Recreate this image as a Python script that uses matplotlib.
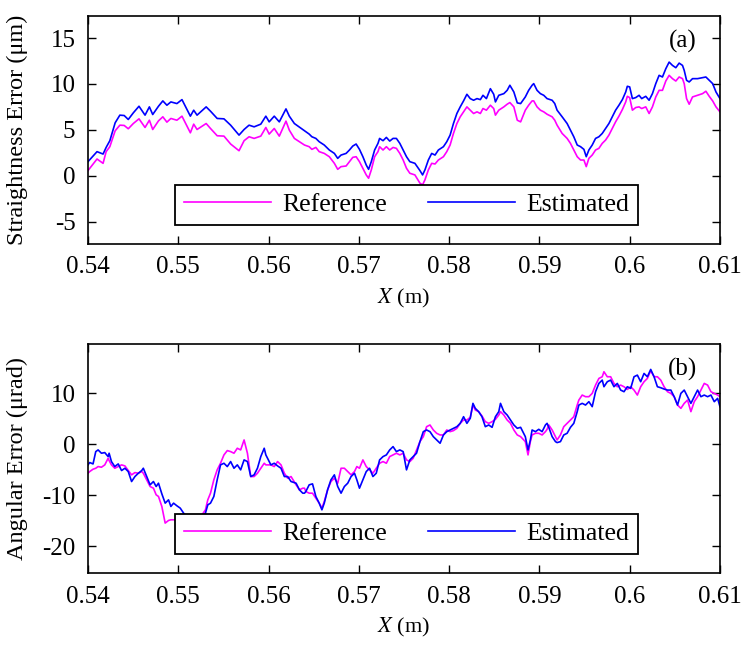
import matplotlib
matplotlib.use('Agg')
import matplotlib.pyplot as plt

# (a) straightness error, um
x_a = [0.54000, 0.54100, 0.54167, 0.54201, 0.54242, 0.54301, 0.54353, 0.54401, 0.54446, 0.54502,
       0.54565, 0.54632, 0.54680, 0.54717, 0.54781, 0.54829, 0.54874, 0.54918, 0.54985, 0.55041,
       0.55134, 0.55171, 0.55208, 0.55309, 0.55357, 0.55431, 0.55506, 0.55580, 0.55673, 0.55729,
       0.55784, 0.55840, 0.55914, 0.55970, 0.56007, 0.56063, 0.56119, 0.56193, 0.56230, 0.56286,
       0.56398,
       0.56450, 0.56480, 0.56524, 0.56561, 0.56617, 0.56673, 0.56729, 0.56766, 0.56803, 0.56859,
       0.56896, 0.56933, 0.56970, 0.57007, 0.57045, 0.57082, 0.57108, 0.57138, 0.57175, 0.57212,
       0.57230, 0.57268, 0.57305, 0.57342, 0.57379, 0.57416, 0.57454, 0.57491, 0.57528, 0.57565,
       0.57621, 0.57677, 0.57706, 0.57732, 0.57770, 0.57807, 0.57844, 0.57881, 0.57937, 0.57974,
       0.58011, 0.58048, 0.58086, 0.58123, 0.58160, 0.58197, 0.58234, 0.58271, 0.58309, 0.58346,
       0.58375, 0.58413, 0.58457, 0.58494, 0.58513, 0.58550, 0.58606, 0.58643, 0.58673, 0.58717,
       0.58755, 0.58792,
       0.58844, 0.58881, 0.58919, 0.58937, 0.58974, 0.59011, 0.59048, 0.59085, 0.59141, 0.59170,
       0.59196, 0.59252, 0.59307, 0.59344, 0.59381, 0.59419, 0.59456, 0.59493, 0.59519, 0.59548,
       0.59585, 0.59622, 0.59659, 0.59696, 0.59733, 0.59770, 0.59807, 0.59844, 0.59881, 0.59919,
       0.59956, 0.59974, 0.60000, 0.60030, 0.60067, 0.60104, 0.60133, 0.60178, 0.60215, 0.60252,
       0.60289, 0.60326, 0.60363, 0.60400, 0.60437, 0.60474, 0.60511, 0.60548, 0.60585, 0.60604,
       0.60630, 0.60659, 0.60696, 0.60752, 0.60807, 0.60844, 0.60881, 0.60919, 0.60956, 0.61000]

ref_a = [0.58, 1.84, 1.37, 2.64, 3.18, 4.91, 5.52, 5.49, 5.13, 5.70,
         6.21, 5.27, 6.06, 5.05, 5.99, 6.43, 5.85, 6.25, 6.06, 6.50,
         4.69, 5.63, 5.05, 5.70, 5.16, 4.37, 4.33, 3.47, 2.74, 3.83,
         4.26, 4.08, 4.33, 5.27, 4.55, 5.16, 4.33, 5.96, 4.98, 4.08,
         3.36,
         3.18, 2.89, 3.10, 2.64, 2.45, 2.09, 1.37, 0.72, 1.01, 1.08,
         1.55, 2.02, 2.09, 1.55, 0.83, 0.11, -0.25, 0.65, 2.09, 2.64,
         3.18, 2.82, 3.18, 2.82, 3.10, 3.00, 2.45, 1.73, 0.83, 0.29,
         0.11, -0.79, -0.97, -0.43, 0.65, 1.37, 1.30, 1.73, 2.09, 2.64,
         3.36, 4.62, 5.70, 6.43, 6.97, 7.51, 7.15, 6.79, 6.97, 6.79,
         7.33, 7.15, 7.69, 7.33, 6.61, 7.15, 7.51, 7.80, 7.98, 7.51,
         6.06, 5.88,
         7.15, 7.69, 8.16, 8.16, 7.51, 7.15, 6.97, 6.71, 6.43, 6.06,
         5.52, 4.62, 4.08, 3.54, 2.82, 2.09, 1.73, 1.73, 1.01, 1.91,
         2.27, 2.82, 3.00, 3.54, 3.90, 4.44, 5.16, 5.88, 6.50, 7.22,
         8.05, 8.66, 8.52, 7.15, 7.44, 7.51, 7.33, 7.51, 6.79, 7.51,
         8.59, 9.31, 9.31, 10.32, 10.94, 10.58, 10.32, 10.76, 10.58, 10.04,
         8.41, 7.80, 8.59, 8.77, 8.95, 9.21, 8.66, 8.16, 7.51, 6.97]

est_a = [1.55, 2.64, 2.38, 3.10, 3.83, 5.78, 6.61, 6.57, 6.14, 6.86,
         7.58, 6.61, 7.51, 6.68, 7.58, 8.16, 7.69, 8.05, 7.87, 8.30,
         6.50, 7.15, 6.61, 7.51, 7.04, 6.25, 6.21, 5.52, 4.44, 5.05,
         5.52, 5.34, 5.63, 6.50, 5.88, 6.50, 5.88, 7.29, 6.50, 5.70,
         4.91,
         4.55, 4.26, 4.08, 3.72, 3.36, 2.82, 2.45, 1.91, 2.27, 2.45,
         2.82, 3.25, 3.47, 2.89, 2.09, 1.19, 0.72, 1.55, 2.82, 3.54,
         4.08, 3.83, 4.19, 3.79, 4.08, 4.08, 3.54, 2.82, 2.09, 1.55,
         1.37, 0.58, 0.11, 0.65, 1.73, 2.45, 2.27, 2.82, 3.18, 3.72,
         4.44, 5.70, 6.79, 7.51, 8.16, 8.88, 8.41, 8.23, 8.41, 8.30,
         8.77, 8.41, 9.49, 8.88, 8.05, 8.77, 8.95, 9.31, 9.86, 9.13,
         7.94, 7.87,
         8.59, 9.31, 9.86, 10.04, 9.31, 8.95, 8.77, 8.41, 8.23, 7.87,
         7.15, 6.43, 5.70, 4.98, 4.26, 3.36, 3.18, 2.89, 2.09, 2.82,
         3.36, 4.08, 4.26, 4.62, 5.16, 5.70, 6.43, 7.15, 7.69, 8.30,
         9.13, 9.75, 9.68, 8.41, 8.52, 8.77, 8.41, 8.66, 8.23, 8.95,
         10.04, 10.94, 10.76, 11.66, 12.38, 12.02, 11.77, 12.27, 12.02, 11.48,
         10.40, 10.22, 10.58, 10.58, 10.69, 10.76, 10.40, 10.04, 9.13, 8.41]

# (b) angular error, urad
x_b = [0.54000, 0.54019, 0.54056, 0.54086, 0.54112, 0.54149, 0.54186, 0.54223, 0.54234, 0.54260,
       0.54297, 0.54335, 0.54372, 0.54409, 0.54446, 0.54483, 0.54520, 0.54558, 0.54595, 0.54613,
       0.54651, 0.54688, 0.54725, 0.54755, 0.54781, 0.54818, 0.54855, 0.54892, 0.54918, 0.54948,
       0.54985, 0.55022, 0.55059, 0.55134, 0.55227, 0.55301, 0.55327, 0.55357, 0.55394, 0.55431,
       0.55468, 0.55506, 0.55543, 0.55580, 0.55617, 0.55654, 0.55691, 0.55729, 0.55766, 0.55803,
       0.55840, 0.55877, 0.55914, 0.55952, 0.55970, 0.56007, 0.56026, 0.56063, 0.56100, 0.56138,
       0.56175, 0.56212, 0.56249, 0.56305, 0.56342, 0.56379, 0.56398,
       0.56413, 0.56450, 0.56487, 0.56524, 0.56561, 0.56591, 0.56617, 0.56654, 0.56691, 0.56729,
       0.56766, 0.56803, 0.56840, 0.56877, 0.56914, 0.56952, 0.56978, 0.57007, 0.57045, 0.57082,
       0.57119, 0.57156, 0.57193, 0.57230, 0.57268, 0.57305, 0.57342, 0.57379, 0.57416, 0.57454,
       0.57491, 0.57528, 0.57565, 0.57602, 0.57639, 0.57677, 0.57714, 0.57751, 0.57788, 0.57825,
       0.57862, 0.57900, 0.57937, 0.57974, 0.58011, 0.58048, 0.58086, 0.58123, 0.58160, 0.58197,
       0.58234, 0.58264, 0.58290, 0.58327, 0.58364, 0.58401, 0.58439, 0.58476, 0.58513, 0.58550,
       0.58569, 0.58606, 0.58643, 0.58680, 0.58717, 0.58755, 0.58792,
       0.58844, 0.58874, 0.58900, 0.58919, 0.58956, 0.58993, 0.59030, 0.59067, 0.59085, 0.59104,
       0.59141, 0.59178, 0.59196, 0.59233, 0.59270, 0.59307, 0.59344, 0.59381, 0.59419, 0.59437,
       0.59474, 0.59511, 0.59548, 0.59585, 0.59622, 0.59659, 0.59696, 0.59715, 0.59752, 0.59789,
       0.59826, 0.59863, 0.59900, 0.59937, 0.59974, 0.60011, 0.60048, 0.60085, 0.60122, 0.60159,
       0.60196, 0.60233, 0.60270, 0.60307, 0.60344, 0.60381, 0.60419, 0.60456, 0.60493, 0.60530,
       0.60567, 0.60604, 0.60641, 0.60678, 0.60715, 0.60752, 0.60789, 0.60826, 0.60863, 0.60900,
       0.60937, 0.60974, 0.61000]

ref_b = [-5.69, -5.36, -4.90, -4.71, -4.38, -4.51, -4.05, -2.75, -3.20, -4.05,
         -4.71, -4.38, -4.05, -4.25, -5.16, -6.01, -5.56, -5.69, -5.36, -5.69,
         -6.99, -8.30, -8.63, -9.93, -10.26, -12.22, -15.49, -14.97, -14.84, -14.84,
         -14.84, -15.16, -15.36, -15.60, -14.80, -12.88, -10.92, -9.61, -6.99, -5.03,
         -3.73, -2.09, -1.24, -1.44, -1.76, -0.78, -1.11, 0.85, -1.76, -6.34,
         -6.34, -5.69, -4.71, -3.73, -4.05, -4.05, -4.05, -4.38, -3.40, -4.05,
         -5.69, -6.67, -6.34, -7.97, -8.95, -8.63, -8.63,
         -9.28, -9.61, -9.61, -10.59, -11.57, -12.55, -11.24, -8.95, -7.32, -6.67,
         -7.65, -4.71, -4.71, -5.36, -6.01, -5.36, -4.38, -4.71, -3.07, -4.38,
         -5.03, -5.69, -4.71, -3.73, -3.40, -3.73, -2.42, -2.09, -1.76, -2.09,
         -1.76, -3.07, -3.40, -2.75, -1.11, 0.52, 1.50, 3.46, 3.79, 2.81,
         2.16, 1.83, 1.83, 2.81, 2.48, 2.68, 3.14, 4.12, 4.77, 4.77,
         5.29, 7.71, 6.73, 6.41, 5.56, 4.44, 4.12, 4.44, 4.90, 5.75,
         6.41, 5.75, 4.77, 4.12, 2.81, 1.83, 1.50,
         0.52, -2.09, 0.52, 1.83, 2.16, 2.16, 1.83, 2.48, 2.94, 3.79,
         2.81, 1.50, 0.85, 1.83, 3.46, 4.12, 4.77, 5.42, 7.71, 8.69,
         9.67, 9.35, 9.35, 10.00, 11.63, 12.94, 13.27, 14.25, 13.27, 13.27,
         11.96, 11.31, 11.63, 11.31, 10.78, 11.31, 10.65, 9.67, 11.31, 12.29,
         12.94, 14.44, 13.27, 13.27, 12.61, 11.31, 10.33, 10.00, 9.35, 7.71,
         7.06, 8.04, 8.69, 6.41, 8.37, 9.35, 10.65, 11.96, 11.63, 10.33,
         10.00, 9.67, 9.35]

est_b = [-4.05, -3.59, -3.86, -1.44, -1.11, -1.76, -1.63, -2.42, -1.76, -3.40,
         -4.38, -3.86, -5.16, -4.71, -5.36, -7.32, -6.34, -5.69, -5.16, -4.71,
         -6.34, -7.97, -7.32, -8.30, -7.65, -9.74, -11.57, -10.92, -12.22, -11.57,
         -12.09, -12.55, -13.53, -14.80, -15.20, -13.53, -11.90, -11.57, -10.26, -6.99,
         -4.05, -3.73, -4.38, -3.40, -4.71, -4.05, -5.03, -3.07, -3.40, -6.34,
         -6.01, -4.71, -2.42, -0.78, -2.09, -3.40, -4.05, -3.73, -4.25, -4.71,
         -6.34, -6.34, -7.32, -7.65, -8.95, -9.61, -9.61,
         -9.28, -7.97, -7.78, -10.26, -11.57, -12.88, -11.57, -8.95, -6.99, -6.01,
         -8.30, -9.61, -8.30, -7.65, -6.34, -5.69, -6.99, -8.63, -6.99, -5.36,
         -4.71, -6.34, -5.69, -3.07, -2.42, -2.09, -1.11, -0.46, -1.44, -1.11,
         -1.44, -5.03, -3.07, -2.42, -1.76, 0.52, 2.48, 2.81, 2.48, 1.50,
         0.85, 0.20, 1.83, 2.48, 2.81, 3.14, 3.46, 4.12, 5.42, 4.12,
         5.10, 8.04, 7.06, 6.41, 5.42, 3.46, 3.79, 3.33, 5.42, 6.41,
         8.04, 6.41, 5.75, 4.77, 3.79, 3.14, 3.33,
         1.50, -1.11, 0.85, 2.81, 2.48, 2.94, 2.48, 3.79, 4.12, 3.33,
         1.50, 0.52, 0.33, 0.52, 1.83, 2.16, 3.33, 4.12, 6.41, 7.71,
         8.04, 7.71, 8.37, 7.39, 10.33, 11.96, 12.61, 11.31, 12.29, 12.61,
         11.31, 11.96, 10.65, 10.33, 11.31, 10.98, 13.27, 13.59, 12.29, 13.92,
         13.27, 14.71, 13.27, 11.31, 11.11, 10.85, 10.65, 10.65, 9.35, 7.71,
         10.00, 10.65, 9.35, 8.04, 9.35, 10.65, 9.35, 9.67, 9.35, 9.67,
         8.37, 9.02, 7.39]

x_ticks = [0.54, 0.55, 0.56, 0.57, 0.58, 0.59, 0.60, 0.61]
x_ticklabels = ['0.54', '0.55', '0.56', '0.57', '0.58', '0.59', '0.6', '0.61']

plt.rcParams['font.family'] = ['Liberation Serif', 'DejaVu Serif']
plt.rcParams['mathtext.fontset'] = 'stix'
plt.rcParams['axes.unicode_minus'] = False

REF_COLOR = '#ff00ff'
EST_COLOR = '#0000ff'


def style_axes(ax, yticks, ylim, ylabel, tag):
    ax.set_xlim(0.54, 0.61)
    ax.set_ylim(*ylim)
    ax.set_xticks(x_ticks)
    ax.set_xticklabels(x_ticklabels)
    ax.set_yticks(yticks)
    ax.tick_params(direction='in', top=True, right=True, length=6, width=1.0,
                   labelsize=18, pad=9)
    for s in ax.spines.values():
        s.set_linewidth(1.2)
    ax.set_xlabel(r'$X$ (m)', fontsize=16, labelpad=6)
    ax.set_ylabel(ylabel, fontsize=17.5)
    ax.yaxis.set_label_coords(-0.095, 0.5)
    ax.text(0.941, 0.89, tag, transform=ax.transAxes, fontsize=18,
            ha='center', va='center')
    leg = ax.legend(loc='lower left', bbox_to_anchor=(0.138, 0.085, 0.732, 0.17),
                    mode='expand', ncol=2, fontsize=18.5, handlelength=3.4,
                    handletextpad=0.45, columnspacing=1.1, borderpad=0.33,
                    borderaxespad=0, fancybox=False, framealpha=1,
                    edgecolor='black')
    leg.get_frame().set_linewidth(1.3)


def main():
    fig = plt.figure(figsize=(7.52, 6.48), dpi=100)

    ax1 = fig.add_axes([0.1170, 0.6235, 0.8404, 0.3519])
    ax1.plot(x_a, ref_a, color=REF_COLOR, lw=1.2, label='Reference')
    ax1.plot(x_a, est_a, color=EST_COLOR, lw=1.2, label='Estimated')
    style_axes(ax1, [-5, 0, 5, 10, 15], (-7.4, 17.4),
               'Straightness Error (\u03bcm)', '(a)')

    ax2 = fig.add_axes([0.1170, 0.1157, 0.8404, 0.3534])
    ax2.plot(x_b, ref_b, color=REF_COLOR, lw=1.2, label='Reference')
    ax2.plot(x_b, est_b, color=EST_COLOR, lw=1.2, label='Estimated')
    style_axes(ax2, [-20, -10, 0, 10], (-25.3, 19.7),
               'Angular Error (\u03bcrad)', '(b)')

    plt.savefig('out.png', dpi=100)


if __name__ == '__main__':
    main()
